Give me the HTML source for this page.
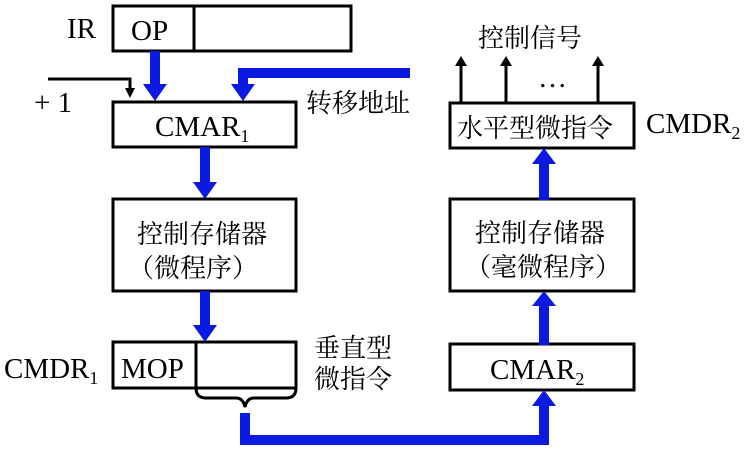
<!DOCTYPE html>
<html><head><meta charset="utf-8"><style>
html,body{margin:0;padding:0;background:#fff;}
svg{display:block;}
.l{font-family:"Liberation Serif","DejaVu Serif",serif;font-size:29px;fill:#000;}
.c{font-family:"Noto Serif CJK SC","Noto Sans CJK SC",serif;font-size:26px;fill:#000;}
</style></head><body>
<svg width="753" height="455" viewBox="0 0 753 455" xmlns="http://www.w3.org/2000/svg">
<g fill="#fff" stroke="#000" stroke-width="3">
<rect x="113" y="6" width="238" height="45"/>
<rect x="113" y="102" width="183" height="45"/>
<rect x="113" y="199" width="183" height="92"/>
<rect x="113" y="342" width="183" height="46"/>
<rect x="450" y="103" width="184" height="45"/>
<rect x="450" y="199" width="184" height="92"/>
<rect x="450" y="344" width="184" height="46"/>
</g>
<g stroke="#000" stroke-width="3" fill="none">
<line x1="194" y1="6" x2="194" y2="51"/>
<line x1="196" y1="342" x2="196" y2="388"/>
<path d="M48 79 H130 V93"/>
<path d="M196 388 Q196 398 206 398 H236 Q243 398 245 407 Q247 398 254 398 H286 Q296 398 296 388"/>
<line x1="461" y1="103" x2="461" y2="66"/>
<line x1="506" y1="103" x2="506" y2="66"/>
<line x1="598" y1="103" x2="598" y2="66"/>
</g>
<g fill="#000">
<polygon points="125,88 135,88 130,98"/>
<polygon points="455,66 467,66 461,56"/>
<polygon points="500,66 512,66 506,56"/>
<polygon points="592,66 604,66 598,56"/>
</g>
<g fill="#0a1ae0">
<rect x="150" y="51" width="10" height="35"/>
<polygon points="143,84 167,84 155,101"/>
<path d="M410 68 V78 H248 V86 H238 V68 Z"/>
<polygon points="231,84 255,84 243,101"/>
<rect x="200" y="147" width="10" height="36"/>
<polygon points="193,182 217,182 205,199"/>
<rect x="200" y="291" width="10" height="35"/>
<polygon points="193,325 217,325 205,342"/>
<path d="M240 413 H250 V435 H539 V405 H549 V445 H240 Z"/>
<polygon points="532,406 556,406 544,390"/>
<rect x="539" y="305" width="10" height="40"/>
<polygon points="532,306 556,306 544,291"/>
<rect x="539" y="160" width="10" height="40"/>
<polygon points="532,164 556,164 544,148"/>
</g>
<text class="l" x="67" y="38">IR</text>
<text class="l" x="131" y="40">OP</text>
<text class="l" x="34" y="112">+ 1</text>
<text class="l" x="155" y="136">CMAR<tspan font-size="18" dy="6">1</tspan></text>
<text class="c" x="306" y="112">转移地址</text>
<text class="c" x="137" y="243">控制存储器</text>
<text class="c" x="128" y="277">（微程序）</text>
<text class="l" x="4" y="378">CMDR<tspan font-size="18" dy="6">1</tspan></text>
<text class="l" x="121" y="378">MOP</text>
<text class="c" x="314" y="357">垂直型</text>
<text class="c" x="314" y="388">微指令</text>
<text class="c" x="478" y="47">控制信号</text>
<text class="l" x="538" y="87" font-size="20">…</text>
<text class="c" x="457" y="137">水平型微指令</text>
<text class="l" x="646" y="133">CMDR<tspan font-size="18" dy="6">2</tspan></text>
<text class="c" x="475" y="242">控制存储器</text>
<text class="c" x="465" y="276">（毫微程序）</text>
<text class="l" x="490" y="379">CMAR<tspan font-size="18" dy="6">2</tspan></text>
</svg>
</body></html>
